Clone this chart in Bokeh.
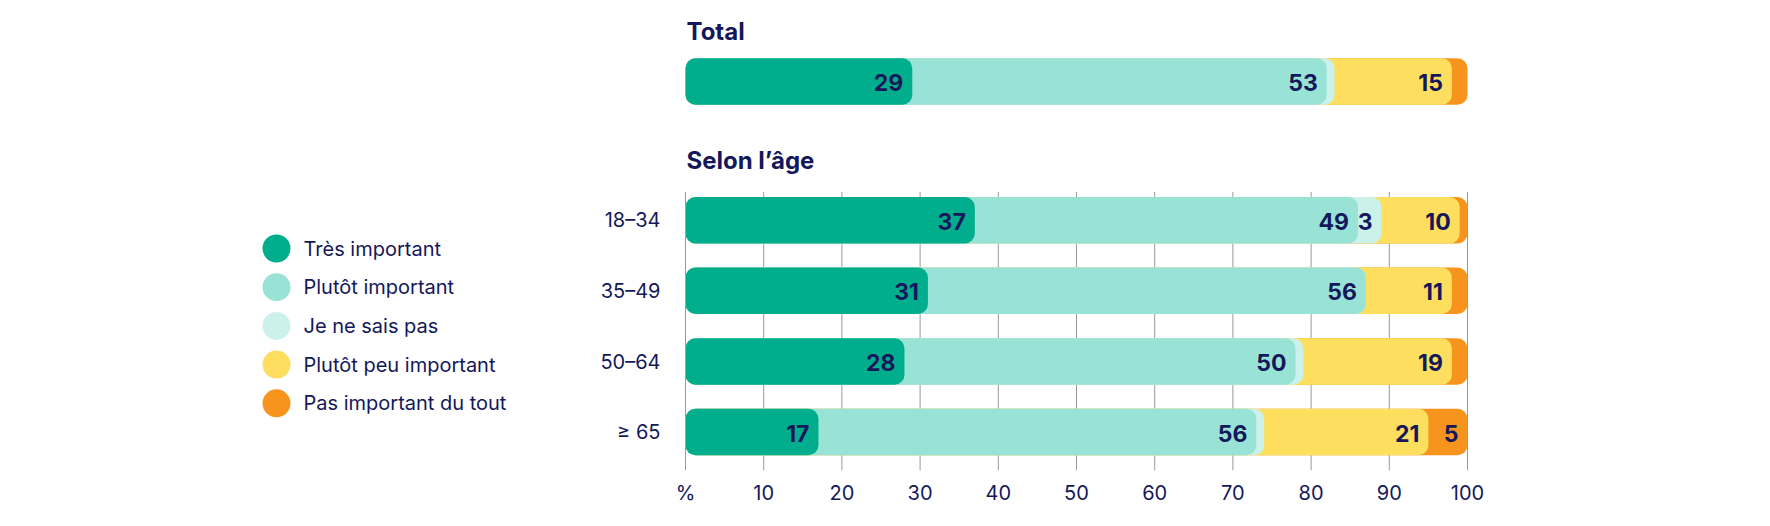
from bokeh.plotting import figure
from bokeh.models import Range1d, FixedTicker
from bokeh.core.properties import value
from bokeh.embed import file_html
from bokeh.resources import INLINE

# ---------------- data ----------------
categories = ["Total", "18–34", "35–49", "50–64", "≥ 65"]
series_names = ["Très important", "Plutôt important", "Je ne sais pas",
                "Plutôt peu important", "Pas important du tout"]
tres_important = [29, 37, 31, 28, 17]
plutot_important = [53, 49, 56, 50, 56]
ne_sais_pas = [1, 3, 0, 1, 1]
plutot_peu = [15, 10, 11, 19, 21]
pas_du_tout = [2, 1, 2, 2, 5]
x_ticks = [0, 10, 20, 30, 40, 50, 60, 70, 80, 90, 100]
tick_labels = {0: "%"}

series = [tres_important, plutot_important, ne_sais_pas, plutot_peu, pas_du_tout]
colors = ["#00AE8D", "#98E3D5", "#CBF1EA", "#FDDE5E", "#F7941E"]
NAVY = "#14185A"
FONT = value("Inter")

# ---------------- layout (pixels) ----------------
W, H = 1770, 526
X0_PX, X100_PX = 685, 1467
SC = (X100_PX - X0_PX) / 100.0
FRAME_BOTTOM = 470
row_y = {"Total": 81, "18–34": 219.7, "35–49": 290.3, "50–64": 361, "≥ 65": 431.5}
BAR_H = 46.5

def px(xp):
    return (xp - X0_PX) / SC

p = figure(width=W, height=H, output_backend="svg", toolbar_location=None,
           x_range=Range1d(px(0), px(W)), y_range=Range1d(FRAME_BOTTOM, 0),
           y_axis_location=None, min_border_left=0, min_border_right=0,
           min_border_top=0, min_border_bottom=H - FRAME_BOTTOM)
p.outline_line_color = None
p.grid.visible = False
p.background_fill_color = "white"
p.border_fill_color = "white"

# x axis
ax = p.xaxis[0]
ax.ticker = FixedTicker(ticks=x_ticks)
ax.major_label_overrides = tick_labels
ax.axis_line_color = None
ax.major_tick_line_color = None
ax.minor_tick_line_color = None
ax.major_tick_in = 0
ax.major_tick_out = 0
ax.major_label_standoff = 10
ax.major_label_text_font = "Inter"
ax.major_label_text_font_size = "20px"
ax.major_label_text_color = NAVY

# gridlines (age section only)
age_cats = categories[1:]
g_top = row_y[age_cats[0]] - BAR_H / 2 - 5
g_bot = FRAME_BOTTOM
p.segment(x0=x_ticks, x1=x_ticks, y0=[g_top] * len(x_ticks), y1=[g_bot] * len(x_ticks),
          line_color="#999999", line_width=1)

# stacked bars: draw cumulative bars from the last series to the first
ys = [row_y[c] for c in categories]
cums = []
acc = [0] * len(categories)
for s in series:
    acc = [a + v for a, v in zip(acc, s)]
    cums.append(list(acc))

for i in reversed(range(len(series))):
    p.hbar(y=ys, left=[0] * len(categories), right=cums[i], height=BAR_H,
           fill_color=colors[i], line_color=None, border_radius=10)

# value labels
lx, ly, lt = [], [], []
for i, s in enumerate(series):
    for j, v in enumerate(s):
        if v >= 3:
            lx.append(cums[i][j])
            ly.append(ys[j])
            lt.append(str(v))
p.text(x=lx, y=ly, text=lt, text_align="right", text_baseline="middle",
       x_offset=-9, y_offset=1, text_font=FONT, text_font_size="23px",
       text_font_style="bold", text_color=NAVY)

# section titles
p.text(x=[0, 0], y=[31, 160], text=["Total", "Selon l’âge"], text_align="left",
       text_baseline="middle", x_offset=1, text_font=FONT, text_font_size="24px",
       text_font_style="bold", text_color=NAVY)

# category labels
p.text(x=[0] * len(age_cats), y=[row_y[c] for c in age_cats], text=age_cats,
       text_align="right", text_baseline="middle", x_offset=-25,
       text_font=FONT, text_font_size="20px", text_color=NAVY)

# legend
leg_y = [248 + 38.7 * k for k in range(len(series_names))]
p.scatter(x=[px(276)] * len(series_names), y=leg_y, size=28, marker="circle",
          fill_color=colors, line_color=None)
p.text(x=[px(303)] * len(series_names), y=leg_y, text=series_names,
       text_align="left", text_baseline="middle", text_font=FONT,
       text_font_size="20px", text_color=NAVY)

open("out.html", "w").write(file_html(p, INLINE))
